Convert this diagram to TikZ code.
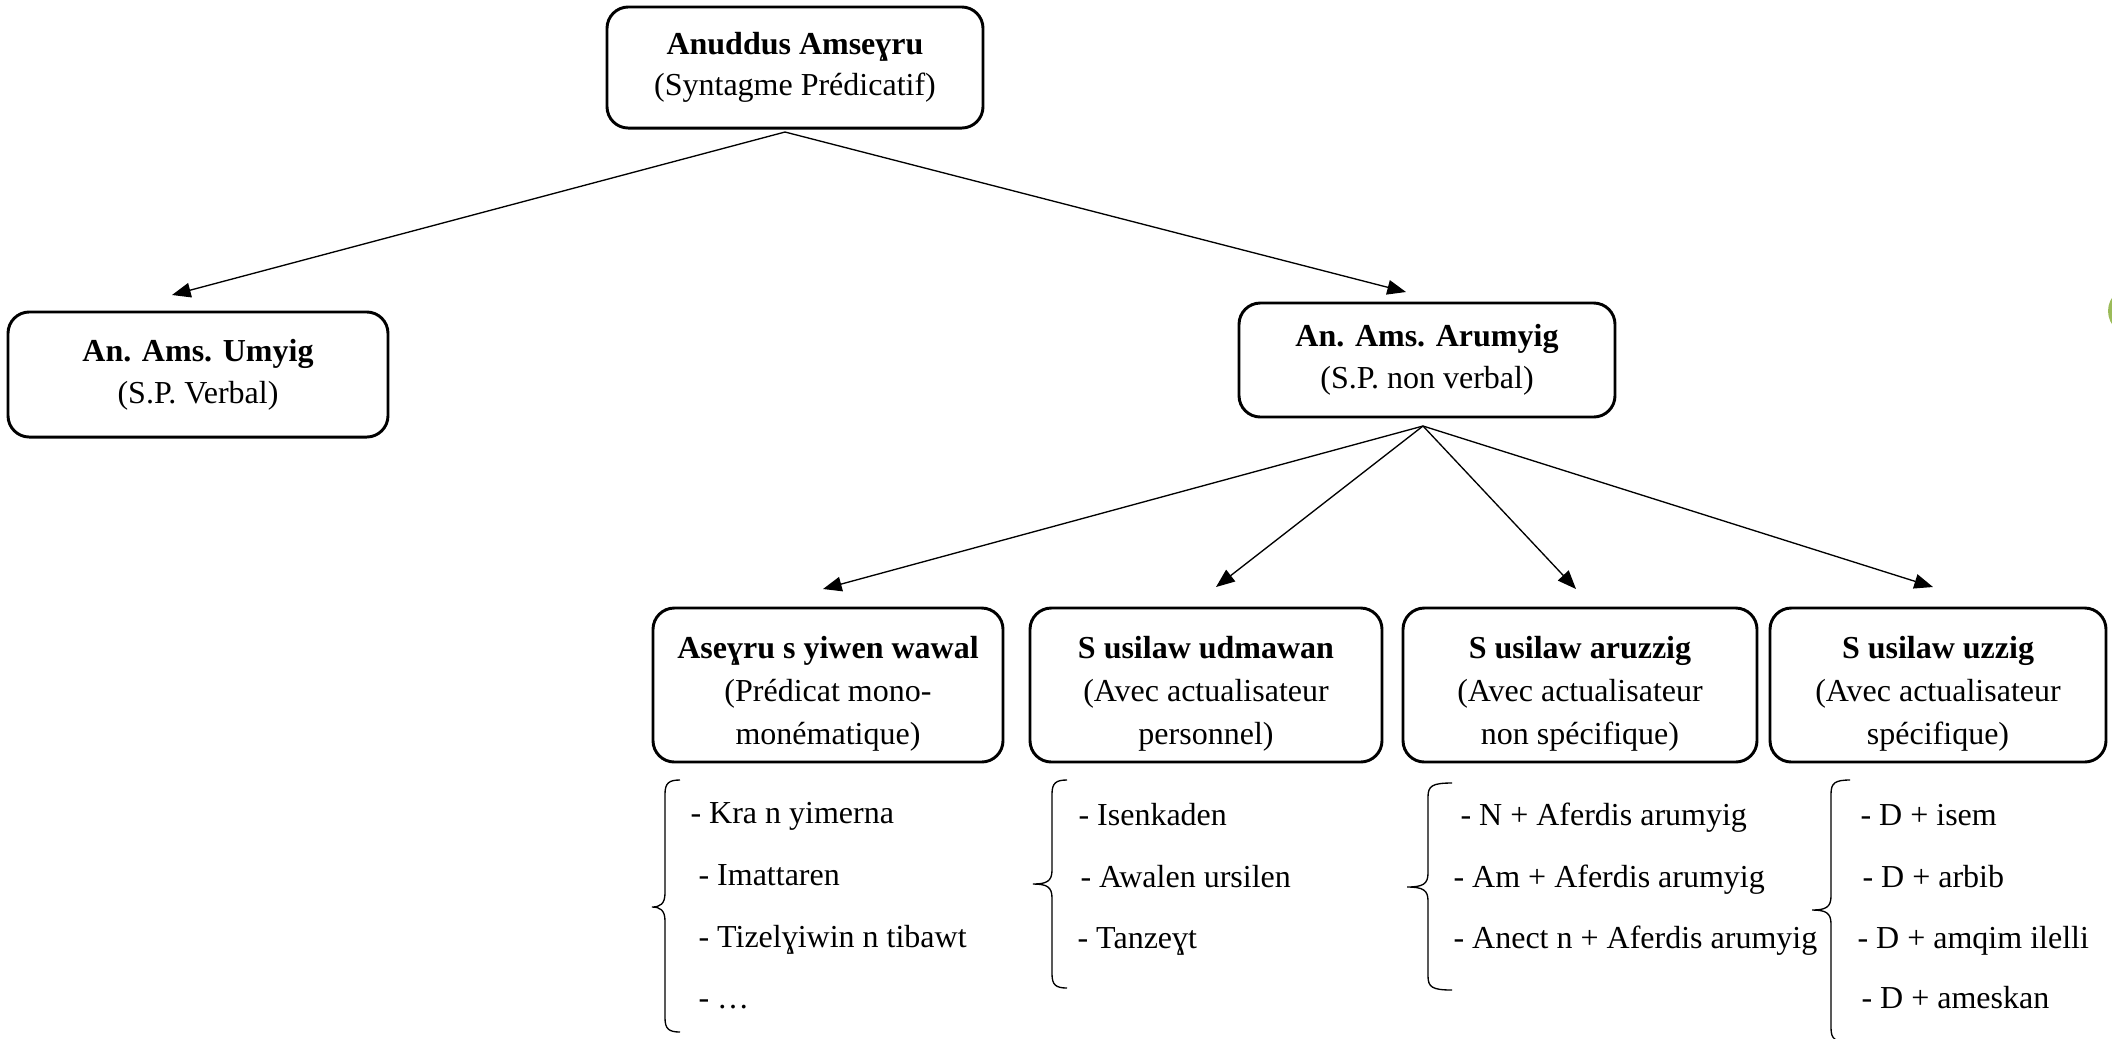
\documentclass[tikz,border=0pt]{standalone}
\usepackage{fontspec}
\setmainfont{Liberation Serif}
\usetikzlibrary{arrows.meta}
\definecolor{olivegreen}{RGB}{155,187,89}
\newcommand\mybrace[6]{%
  \draw[brc] (#6,#2) .. controls (#1+4,#2) and (#1,#2+3) .. (#1,#2+14)
    -- (#1,#5-14) .. controls (#1,#5-3) and (#1-5,#5) .. (#4,#5)
    .. controls (#1-5,#5) and (#1,#5+3) .. (#1,#5+14)
    -- (#1,#3-14) .. controls (#1,#3-3) and (#1+4,#3) .. (#6,#3);}
\newcommand\lowstrut{\rule{0pt}{15pt}}
\begin{document}
\begin{tikzpicture}[x=0.375pt,y=-0.375pt,
  box/.style={draw, line width=1.1pt, rounded corners=8pt, align=center,
    inner sep=0pt, font=\fontsize{12}{15.6}\selectfont},
  lbox/.style={box, minimum height=57.75pt, font=\fontsize{12}{16}\selectfont},
  arr/.style={-{Triangle[length=7pt,width=5.5pt]}, line width=0.5pt},
  item/.style={anchor=base west, inner sep=0pt, font=\fontsize{12}{14.8}\selectfont},
  brc/.style={line width=0.5pt}]
\useasboundingbox (0,0) rectangle (2112,1038);

% green edge mark
\fill[olivegreen] (2138,311) ellipse [x radius=11.25pt, y radius=10pt];

% boxes
\node[box, minimum width=141pt, minimum height=45.4pt] (top) at (795,67.5)
  {\textbf{Anuddus Amseɣru}\\(Syntagme Prédicatif)};
\node[box, minimum width=142.5pt, minimum height=46.9pt] (umy) at (198,374.5)
  {\textbf{An. Ams. Umyig}\\(S.P. Verbal)};
\node[box, minimum width=141pt, minimum height=42.75pt] (aru) at (1427,360)
  {\textbf{An. Ams. Arumyig}\\(S.P. non verbal)};
\node[lbox, minimum width=131.25pt] (b1) at (828,685)
  {\lowstrut\textbf{Aseɣru s yiwen wawal}\\(Prédicat mono-\\monématique)};
\node[lbox, minimum width=132pt] (b2) at (1206,685)
  {\lowstrut\textbf{S usilaw udmawan}\\(Avec actualisateur\\personnel)};
\node[lbox, minimum width=132.75pt] (b3) at (1580,685)
  {\lowstrut\textbf{S usilaw aruzzig}\\(Avec actualisateur\\non spécifique)};
\node[lbox, minimum width=126pt] (b4) at (1938,685)
  {\lowstrut\textbf{S usilaw uzzig}\\(Avec actualisateur\\spécifique)};

% connector points
\coordinate (ta) at (785,132);
\coordinate (e1) at (172,295);
\coordinate (e2) at (1406,292);
\coordinate (tb) at (1423,426);
\coordinate (f1) at (823,589);
\coordinate (f2) at (1216,587);
\coordinate (f3) at (1576,589);
\coordinate (f4) at (1933,587);

\draw[arr] (ta) -- (e1);
\draw[arr] (ta) -- (e2);
\draw[arr] (tb) -- (f1);
\draw[arr] (tb) -- (f2);
\draw[arr] (tb) -- (f3);
\draw[arr] (tb) -- (f4);

% braces
\mybrace{665}{780}{1032}{652}{907}{680}
\mybrace{1052}{780}{988}{1033}{884}{1067}
\mybrace{1428}{783}{990}{1407}{887}{1452}
\mybrace{1831}{780}{1042}{1812}{910}{1850}

% lists
\node[item] (i11) at (690,823) {- Kra n yimerna};
\node[item] (i12) at (698,885) {- Imattaren};
\node[item] (i13) at (698,947) {- Tizelɣiwin n tibawt};
\node[item] (i14) at (698,1008) {- …};

\node[item] (i21) at (1078,825) {- Isenkaden};
\node[item] (i22) at (1080,887) {- Awalen ursilen};
\node[item] (i23) at (1077,948) {- Tanzeɣt};

\node[item] (i31) at (1460,825) {- N + Aferdis arumyig};
\node[item] (i32) at (1453,887) {- Am + Aferdis arumyig};
\node[item] (i33) at (1453,948) {- Anect n + Aferdis arumyig};

\node[item] (i41) at (1860,825) {- D + isem};
\node[item] (i42) at (1862,887) {- D + arbib};
\node[item] (i43) at (1857,948) {- D + amqim ilelli};
\node[item] (i44) at (1861,1008) {- D + ameskan};
\end{tikzpicture}
\end{document}
